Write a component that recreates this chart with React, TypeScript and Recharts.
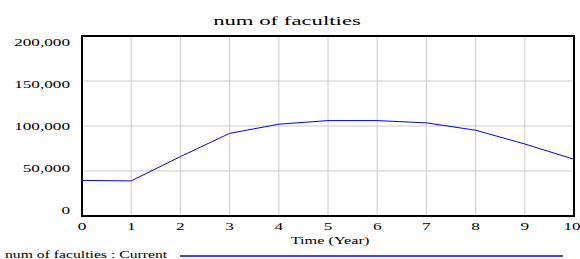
import React from 'react';
import { LineChart, Line, XAxis, YAxis, CartesianGrid, ReferenceArea } from 'recharts';

const years = [0, 1, 2, 3, 4, 5, 6, 7, 8, 9, 10];
const faculties = [39500, 39000, 66000, 91800, 102000, 106000, 106000, 103500, 95300, 80000, 63000];
const yTicks = [0, 50000, 100000, 150000, 200000];
const seriesName = 'num of faculties : Current';

const data = years.map((t, i) => ({ t, v: faculties[i] }));

const serif = { fontFamily: 'Liberation Serif, serif' };
const SX = 1.72;

const YTick = (props: any) => {
  const { x, y, payload } = props;
  // labels in the source sit slightly squeezed toward the middle
  const shift = -6 + 12 * (payload.value / 200000);
  return (
    <g transform={`translate(${x},${y + shift})`}>
      <text transform={`scale(${SX},1)`} textAnchor="end" dy="0.35em" fontSize={10} style={serif} fill="#000">
        {payload.value.toLocaleString('en-US')}
      </text>
    </g>
  );
};

const XTick = (props: any) => {
  const { x, y, payload } = props;
  return (
    <g transform={`translate(${x},${y})`}>
      <text transform={`scale(${SX},1)`} textAnchor="middle" dy={8} fontSize={10} style={serif} fill="#000">
        {payload.value}
      </text>
    </g>
  );
};

export default function App() {
  return (
    <div style={{ position: 'absolute', left: 0, top: 0, width: 580, height: 259, background: '#fff' }}>
      <LineChart width={580} height={259} data={data} margin={{ top: 36, right: 6, bottom: 13, left: 0 }}>
        <CartesianGrid stroke="#cccccc" strokeWidth={1} />
        <XAxis
          dataKey="t"
          type="number"
          domain={[0, 10]}
          ticks={years}
          height={30}
          tickSize={6}
          tickMargin={0}
          tickLine={false}
          axisLine={false}
          tick={<XTick />}
        />
        <YAxis
          type="number"
          domain={[0, 200000]}
          ticks={yTicks}
          width={82}
          tickSize={6}
          tickMargin={6}
          tickLine={false}
          axisLine={false}
          tick={<YTick />}
        />
        <ReferenceArea x1={0} x2={10} y1={0} y2={200000} fill="none" fillOpacity={0} stroke="#000" strokeWidth={2} />
        <Line type="linear" dataKey="v" stroke="#0000ff" strokeWidth={1} dot={false} isAnimationActive={false} />
      </LineChart>
      <svg width={580} height={259} style={{ position: 'absolute', left: 0, top: 0, pointerEvents: 'none' }}>
        <g transform="translate(287,25)">
          <text transform="scale(1.75,1)" textAnchor="middle" fontSize={13} style={serif} fill="#000">
            num of faculties
          </text>
        </g>
        <g transform="translate(330,243.5)">
          <text transform="scale(1.55,1)" textAnchor="middle" fontSize={10.5} style={serif} fill="#000">
            Time (Year)
          </text>
        </g>
        <g transform="translate(5,258)">
          <text transform="scale(1.57,1)" textAnchor="start" fontSize={10} style={serif} fill="#000">
            {seriesName}
          </text>
        </g>
        <line x1={180} x2={563} y1={256} y2={256} stroke="#0000ff" strokeWidth={1.5} />
      </svg>
    </div>
  );
}
